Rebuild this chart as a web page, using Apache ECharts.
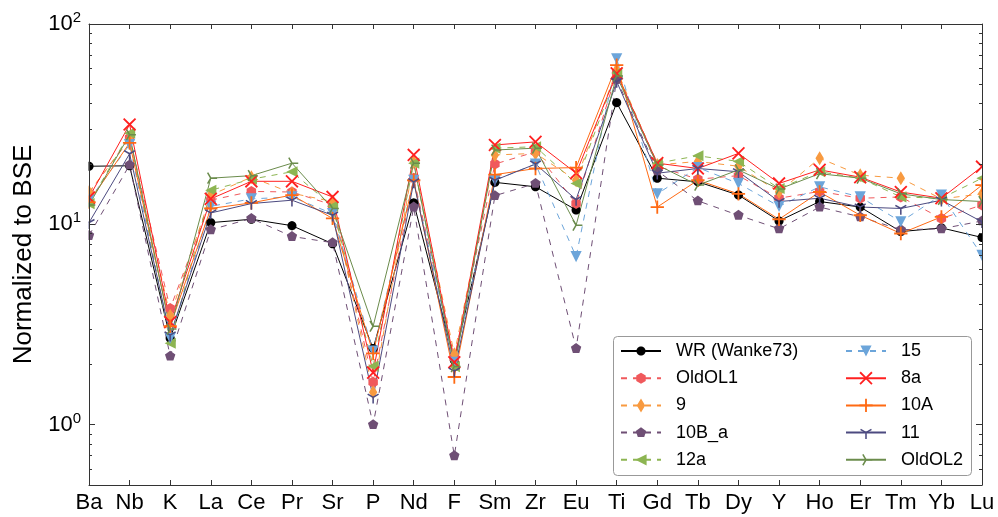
<!DOCTYPE html>
<html><head><meta charset="utf-8">
<script src="https://cdn.jsdelivr.net/npm/echarts@6/dist/echarts.min.js"></script>
<style>html,body{margin:0;padding:0;background:#fff}#c{width:998px;height:517px}</style>
</head><body><div id="c"></div>
<script>
// ---------------- data ----------------
const categories = ['Ba','Nb','K','La','Ce','Pr','Sr','P','Nd','F','Sm','Zr','Eu','Ti','Gd','Tb','Dy','Y','Ho','Er','Tm','Yb','Lu'];
const yTickValues = [1, 10, 100];

const wr     = [19.5, 19.6, 2.7, 10.2, 10.6, 9.85, 8.0, 2.4, 12.8, 2.1, 16.2, 15.4, 11.8, 40.5, 17.0, 16.3, 14.0, 10.4, 13.0, 12.2, 9.2, 9.6, 8.6];
const oldOL1 = [14.3, 27.0, 3.8, 13.2, 14.6, 14.5, 12.5, 1.63, 17.0, 2.15, 20.0, 23.0, 12.7, 57.0, 19.5, 16.8, 17.5, 13.5, 14.6, 13.5, 13.7, 10.7, 12.5];
const s9     = [14.5, 26.5, 3.5, 14.0, 17.2, 14.3, 13.0, 1.45, 20.5, 2.25, 22.2, 22.6, 16.6, 59.0, 19.8, 20.6, 19.5, 14.5, 21.4, 17.6, 17.0, 13.4, 14.2];
const s10B_a = [8.8, 19.8, 2.2, 9.4, 10.7, 8.7, 8.1, 1.0, 12.2, 0.70, 13.9, 16.0, 2.4, 53.0, 18.5, 13.1, 11.1, 9.5, 12.2, 10.9, 9.4, 9.5, 10.4];
const s12a   = [12.7, 28.5, 2.55, 14.8, 16.8, 18.3, 12.3, 1.96, 20.2, 1.95, 24.0, 24.4, 16.0, 57.0, 20.2, 22.0, 20.6, 15.1, 18.3, 17.0, 13.7, 13.5, 17.0];
const s15    = [13.2, 25.0, 2.7, 12.3, 13.4, 13.7, 11.3, 2.33, 16.6, 2.05, 16.6, 20.0, 6.9, 67.0, 14.2, 19.2, 16.0, 12.3, 15.4, 13.7, 10.3, 14.0, 7.0];
const s8a    = [13.6, 31.5, 3.25, 13.4, 16.4, 16.4, 13.7, 1.82, 22.2, 2.05, 24.9, 25.8, 18.0, 56.7, 20.2, 19.0, 22.6, 16.0, 18.7, 17.2, 14.5, 13.5, 19.4];
const s10A   = [12.9, 25.5, 3.1, 12.0, 12.8, 14.0, 10.7, 2.27, 16.6, 1.73, 17.7, 19.0, 19.2, 62.3, 12.2, 16.6, 14.2, 10.6, 14.5, 11.1, 9.0, 10.9, 15.7];
const s11    = [10.2, 22.5, 2.8, 11.4, 12.7, 13.2, 11.1, 1.37, 16.3, 1.85, 16.6, 20.0, 13.3, 51.6, 18.0, 19.0, 18.3, 13.0, 13.5, 12.2, 12.0, 13.2, 10.3];
const oldOL2 = [12.5, 28.0, 3.0, 17.0, 17.5, 20.2, 12.0, 3.1, 20.2, 1.95, 23.5, 24.0, 9.9, 55.0, 19.8, 15.7, 18.7, 15.0, 17.9, 17.0, 14.2, 13.3, 13.0];

const seriesNames = ['WR (Wanke73)','OldOL1','9','10B_a','12a','15','8a','10A','11','OldOL2'];
const seriesData  = [wr, oldOL1, s9, s10B_a, s12a, s15, s8a, s10A, s11, oldOL2];

// ---------------- styling ----------------
const FONT = 'Liberation Sans, Arial, Helvetica, sans-serif';
const axisColor = '#333333';
const colors = ['#000000','#f0595c','#f89a40','#6f4f75','#8db552','#6ca5da','#ff2020','#ff6a13','#4c4a80','#6b8c4c'];
const dashed = [false, true, true, true, true, true, false, false, false, false];

// symbol paths in a 20x20 box (corner dots keep the bbox square and centred)
const CORNERS = ' M0,0 L0.01,0 L0,0.01 Z M20,20 L19.99,20 L20,19.99 Z';
function poly(pts){ return 'M' + pts.map(p => p[0].toFixed(2) + ',' + p[1].toFixed(2)).join(' L') + ' Z'; }
function regular(n, r, start){
  const pts = [];
  for (let k = 0; k < n; k++){ const a = (start + k * 360 / n) * Math.PI / 180; pts.push([10 + r * Math.cos(a), 10 + r * Math.sin(a)]); }
  return 'path://' + poly(pts) + CORNERS;
}
function arms(angles, r, t){
  let d = '';
  angles.forEach(deg => {
    const a = deg * Math.PI / 180, ex = 10 + r * Math.cos(a), ey = 10 + r * Math.sin(a);
    const nx = -Math.sin(a) * t / 2, ny = Math.cos(a) * t / 2;
    d += poly([[10 + nx, 10 + ny], [ex + nx, ey + ny], [ex - nx, ey - ny], [10 - nx, 10 - ny]]) + ' ';
  });
  return 'path://' + d + CORNERS;
}
const symbols = [
  regular(32, 6.5, 0),                                  // circle
  regular(6, 7.8, -90),                                 // hexagon
  'path://' + poly([[10,0],[16,10],[10,20],[4,10]]) + CORNERS, // thin diamond
  regular(5, 7.8, -90),                                 // pentagon
  'path://' + poly([[2,10],[18,2],[18,18]]) + CORNERS,  // triangle left
  'path://' + poly([[2,2],[18,2],[10,18]]) + CORNERS,   // triangle down
  arms([45,135,225,315], 12, 2.6),                      // x
  arms([0,90,180,270], 9.5, 2.6),                       // +
  arms([90,210,330], 9, 2.2),                           // tri_down
  arms([0,120,240], 9, 2.2)                             // tri_right
];

const series = seriesNames.map((name, i) => ({
  name: name,
  type: 'line',
  data: seriesData[i],
  xAxisIndex: 0,
  yAxisIndex: 0,
  symbol: symbols[i],
  symbolSize: 14,
  showAllSymbol: true,
  clip: true,
  lineStyle: { color: colors[i], width: 1, type: dashed[i] ? [6, 6] : 'solid' },
  itemStyle: { color: colors[i], borderWidth: 0 },
  emphasis: { disabled: true },
  z: 2
}));

const minorVals = [];
[0.1, 1, 10].forEach(base => { for (let k = 2; k <= 9; k++){ const v = +(base * k).toFixed(4); if (v >= 0.5 && v < 100) minorVals.push(v); } });

function yAxisBase(pos){
  return {
    type: 'log', logBase: 10, min: 0.5, max: 100, position: pos, z: 10,
    axisLine: { show: true, lineStyle: { color: axisColor, width: 1 } },
    splitLine: { show: false }, minorTick: { show: false }, minorSplitLine: { show: false }
  };
}
const supLabel = v => { const e = Math.round(Math.log10(v)); return '{b|10}{s|' + e + '}'; };

const option = {
  animation: false,
  backgroundColor: '#ffffff',
  grid: { left: 89, right: 16, top: 24, bottom: 32, containLabel: false },
  xAxis: [
    { type: 'category', data: categories, boundaryGap: false, position: 'bottom', z: 10,
      axisLine: { show: true, lineStyle: { color: axisColor, width: 1 } },
      axisTick: { show: true, inside: true, length: 5, interval: 0, lineStyle: { color: axisColor } },
      axisLabel: { interval: 0, margin: 7, fontSize: 22, fontFamily: FONT, color: '#000' },
      splitLine: { show: false } },
    { type: 'category', data: categories, boundaryGap: false, position: 'top', z: 10,
      axisLine: { show: true, lineStyle: { color: axisColor, width: 1 } },
      axisTick: { show: true, inside: true, length: 5, interval: 0, lineStyle: { color: axisColor } },
      axisLabel: { show: false }, splitLine: { show: false } }
  ],
  yAxis: [
    Object.assign(yAxisBase('left'), {
      axisTick: { show: true, inside: true, length: 6, lineStyle: { color: axisColor } },
      axisLabel: { showMinLabel: false, margin: 8, formatter: supLabel,
        rich: { b: { fontSize: 22, fontFamily: FONT, color: '#000' },
                s: { fontSize: 15, fontFamily: FONT, color: '#000', padding: [0, 0, 12, 0] } } },
      name: 'Normalized to BSE', nameLocation: 'middle', nameRotate: 90, nameGap: 52,
      nameTextStyle: { fontSize: 26, fontFamily: FONT, color: '#000' }
    }),
    Object.assign(yAxisBase('left'), {
      axisLine: { show: false },
      axisTick: { show: true, inside: true, length: 3, customValues: minorVals, lineStyle: { color: axisColor } },
      axisLabel: { show: false }
    }),
    Object.assign(yAxisBase('right'), {
      axisTick: { show: true, inside: true, length: 6, lineStyle: { color: axisColor } },
      axisLabel: { show: false }
    }),
    Object.assign(yAxisBase('right'), {
      axisLine: { show: false },
      axisTick: { show: true, inside: true, length: 3, customValues: minorVals, lineStyle: { color: axisColor } },
      axisLabel: { show: false }
    })
  ],
  graphic: [
    // mask outside the plot area so edge markers are clipped like the reference
    { type: 'rect', left: 0, top: 0, z: 3, silent: true,
      shape: { width: 88.5, height: 517 }, style: { fill: '#ffffff' } },
    { type: 'rect', left: 982.5, top: 0, z: 3, silent: true,
      shape: { width: 15.5, height: 517 }, style: { fill: '#ffffff' } },
    { type: 'rect', left: 613, top: 336, z: 5,
      shape: { width: 358, height: 139, r: 4 },
      style: { fill: '#ffffff', stroke: '#999999', lineWidth: 1 } }
  ],
  legend: [
    { data: seriesNames.slice(0, 5), orient: 'vertical', left: 620, top: 342, z: 6, padding: 0,
      itemWidth: 40, itemHeight: 17.5, itemGap: 9.2, selectedMode: false,
      textStyle: { fontSize: 18, fontFamily: FONT, color: '#000', lineHeight: 18, padding: [0, 0, 0, 10] } },
    { data: seriesNames.slice(5), orient: 'vertical', left: 845, top: 342, z: 6, padding: 0,
      itemWidth: 40, itemHeight: 17.5, itemGap: 9.2, selectedMode: false,
      textStyle: { fontSize: 18, fontFamily: FONT, color: '#000', lineHeight: 18, padding: [0, 0, 0, 10] } }
  ],
  series: series
};

const chart = echarts.init(document.getElementById('c'), null, { renderer: 'canvas' });
chart.setOption(option);
</script>
</body></html>
